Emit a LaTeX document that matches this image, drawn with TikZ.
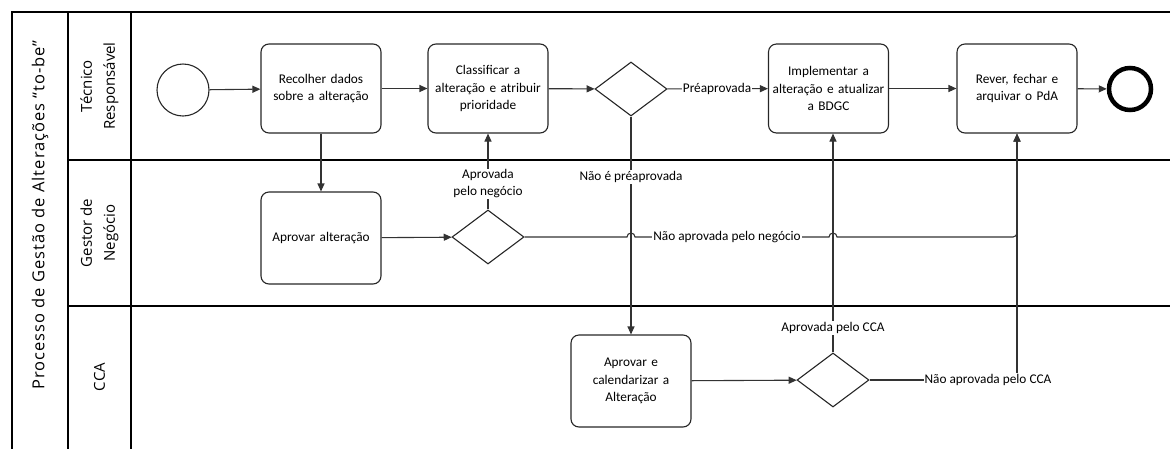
\documentclass[tikz,border=0pt]{standalone}
\usepackage{fontspec}
\setmainfont{Carlito}
\newfontfamily\lanefont{Open Sans}
\newfontfamily\poolfont[LetterSpace=6]{Open Sans}
\usetikzlibrary{shapes.geometric,arrows.meta,calc}
\begin{document}
\begin{tikzpicture}[x=1pt,y=-1pt,
  task/.style={draw=black!85, line width=1.1pt, rounded corners=8pt,
    minimum width=120pt, minimum height=89pt, align=center, text width=114pt,
    inner sep=0pt, font=\fontsize{13.3}{17.5}\selectfont},
  gate/.style={draw=black!85, line width=1.1pt, diamond, minimum width=72pt,
    minimum height=54pt, inner sep=0pt},
  flow/.style={draw=black!80, line width=1.1pt, -{Triangle[length=8pt,width=7pt]}},
  lbl/.style={fill=white, inner sep=1pt, align=center,
    font=\fontsize{13.3}{17}\selectfont},
  lane/.style={rotate=90, align=center, font=\lanefont\fontsize{15}{23}\selectfont},
  frame/.style={draw=black, line width=1.3pt}
]
\useasboundingbox (0,0) rectangle (1170,448);

% pool and lanes
\draw[frame] (1170,12) -- (12,12) -- (12,449);
\draw[frame] (68,12) -- (68,449);
\draw[frame] (131,12) -- (131,449);
\draw[frame] (68,160) -- (1170,160);
\draw[frame] (68,306) -- (1170,306);

\node[lane, font=\poolfont\fontsize{16.5}{23}\selectfont] (pool) at (40,215) {Processo de Gestão de Alterações “to-be”};
\node[lane] (l1) at (99.5,86) {Técnico\\Responsável};
\node[lane] (l2) at (99.5,233) {Gestor de\\Negócio};
\node[lane] (l3) at (99.5,377) {CCA};

% events, tasks and gateways
\node[circle, draw=black!85, line width=1.1pt, minimum size=52pt, inner sep=0pt] (start) at (183,90) {};
\node[task] (rec) at (321,88.5) {Recolher dados\\sobre a alteração};
\node[task] (cls) at (488,88.5) {Classificar a\\alteração e atribuir\\prioridade};
\node[gate] (g1) at (631,89) {};
\node[task] (impl) at (828.5,88.5) {Implementar a\\alteração e atualizar\\a BDGC};
\node[task] (rev) at (1017,88.5) {Rever, fechar e\\arquivar o PdA};
\node[circle, draw=black, line width=4.5pt, minimum size=42pt, inner sep=0pt] (end) at (1130,89) {};

\node[task, minimum height=92pt] (apr) at (321,238) {Aprovar alteração};
\node[gate] (g2) at (488,237) {};

\node[task, minimum height=92pt] (cal) at (631,381) {Aprovar e\\calendarizar a\\Alteração};
\node[gate] (g3) at (833,380) {};

% sequence flows
\draw[flow] (start) -- (rec);
\draw[flow] (rec) -- (cls);
\draw[flow] (cls) -- (g1);
\draw[flow] (g1) -- (impl);
\draw[flow] (impl) -- (rev);
\draw[flow] (rev) -- (end);
\draw[flow] (rec) -- (apr);
\draw[flow] (apr) -- (g2);
\draw[flow] (g2.north) -- (g2.north |- cls.south);
\draw[flow] (g1.south) -- (cal.north);
\draw[flow] (cal) -- (g3);
\draw[flow] (g3.north) -- (g3.north |- impl.south);
\draw[flow] (g3.east) -| (rev.south);
\draw[flow] (g2.east)
  -- ($(g1.center |- g2.east)+(-4pt,0)$) arc[start angle=180, end angle=0, radius=4pt]
  -- ($(g3.center |- g2.east)+(-4pt,0)$) arc[start angle=180, end angle=0, radius=4pt]
  -- ($(rev.south |- g2.east)+(-4pt,0)$) arc[start angle=270, end angle=360, radius=4pt]
  -- (rev.south);

% flow labels
\node[lbl] (tpre) at (717,89) {Préaprovada};
\node[lbl] (tapn) at (488,184) {Aprovada\\pelo negócio};
\node[lbl] (tnpre) at (631,177) {Não é préaprovada};
\node[lbl] (tnapn) at (727,237) {Não aprovada pelo negócio};
\node[lbl] (tacca) at (833,328) {Aprovada pelo CCA};
\node[lbl] (tncca) at (988,380) {Não aprovada pelo CCA};
\end{tikzpicture}
\end{document}
